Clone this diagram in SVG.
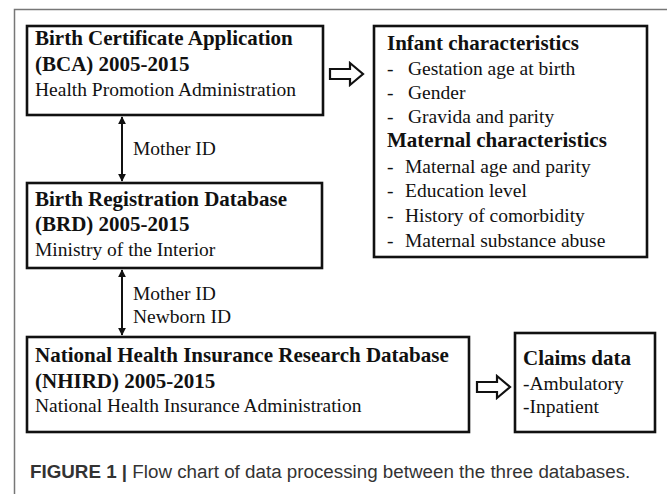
<svg xmlns="http://www.w3.org/2000/svg" width="667" height="494" viewBox="0 0 667 494">
<style>
.box{fill:#fff;stroke:#111;stroke-width:2.6}
.b{font-family:"Liberation Serif","Times New Roman",serif;font-weight:bold;font-size:21px;fill:#111}
.r{font-family:"Liberation Serif","Times New Roman",serif;font-size:19.5px;fill:#111}
.link{stroke:#111;stroke-width:2;fill:none}
.harrow{fill:#fff;stroke:#111;stroke-width:2.2;stroke-linejoin:miter}
.cap{font-family:"Liberation Sans",Arial,sans-serif;font-size:18.8px;fill:#333}
</style>
<defs>
<marker id="ah" viewBox="0 0 10 10" refX="9" refY="5" markerWidth="4" markerHeight="4" orient="auto-start-reverse" markerUnits="strokeWidth">
<path d="M0,0 L10,5 L0,10 Z" fill="#111"/>
</marker>
</defs>
<rect width="667" height="494" fill="#fff"/>
<path d="M14.5,494 L14.5,9.5 L667,9.5" fill="none" stroke="#777" stroke-width="1.5"/>

<g id="bca">
<rect class="box" x="27" y="26" width="296" height="89"/>
<text class="b" x="35" y="45">Birth Certificate Application</text>
<text class="b" x="35" y="71">(BCA) 2005-2015</text>
<text class="r" x="35" y="96">Health Promotion Administration</text>
</g>

<g id="brd">
<rect class="box" x="27" y="183" width="295" height="85"/>
<text class="b" x="35" y="206">Birth Registration Database</text>
<text class="b" x="35" y="231">(BRD) 2005-2015</text>
<text class="r" x="35" y="256">Ministry of the Interior</text>
</g>

<g id="nhird">
<rect class="box" x="27" y="337" width="442" height="95"/>
<text class="b" x="35" y="362">National Health Insurance Research Database</text>
<text class="b" x="35" y="388">(NHIRD) 2005-2015</text>
<text class="r" x="35" y="412">National Health Insurance Administration</text>
</g>

<g id="characteristics">
<rect class="box" x="374" y="26" width="273" height="231"/>
<text class="b" x="387" y="50">Infant characteristics</text>
<text class="r" x="387" y="75">-</text><text class="r" x="408" y="75">Gestation age at birth</text>
<text class="r" x="387" y="99">-</text><text class="r" x="408" y="99">Gender</text>
<text class="r" x="387" y="123">-</text><text class="r" x="408" y="123">Gravida and parity</text>
<text class="b" x="387" y="147">Maternal characteristics</text>
<text class="r" x="387" y="173">-</text><text class="r" x="405" y="173">Maternal age and parity</text>
<text class="r" x="387" y="197">-</text><text class="r" x="405" y="197">Education level</text>
<text class="r" x="387" y="222">-</text><text class="r" x="405" y="222">History of  comorbidity</text>
<text class="r" x="387" y="247">-</text><text class="r" x="405" y="247">Maternal substance  abuse</text>
</g>

<g id="claims">
<rect class="box" x="515" y="333" width="140" height="99"/>
<text class="b" x="523" y="365">Claims data</text>
<text class="r" x="523" y="390">-Ambulatory</text>
<text class="r" x="523" y="413">-Inpatient</text>
</g>

<g id="connectors">
<line class="link" x1="122" y1="117" x2="122" y2="181" marker-start="url(#ah)" marker-end="url(#ah)"/>
<text class="r" x="133" y="155">Mother ID</text>
<line class="link" x1="122" y1="270" x2="122" y2="335" marker-start="url(#ah)" marker-end="url(#ah)"/>
<text class="r" x="133" y="300">Mother ID</text>
<text class="r" x="133" y="323">Newborn ID</text>
<path class="harrow" d="M330,69 L350,69 L350,63 L363,74 L350,85 L350,79 L330,79 Z"/>
<path class="harrow" d="M477,382 L497,382 L497,376 L510,387 L497,398 L497,392 L477,392 Z"/>
</g>

<g id="caption">
<text class="cap" x="30" y="478"><tspan font-weight="bold">FIGURE 1 | </tspan>Flow chart of data processing between the three databases.</text>
</g>
</svg>
